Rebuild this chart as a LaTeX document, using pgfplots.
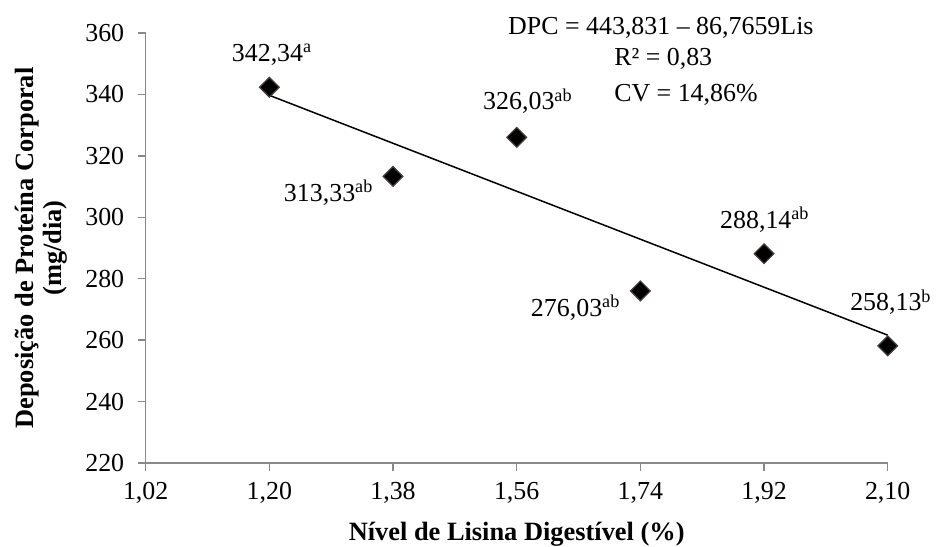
\documentclass[border=0pt]{standalone}
\usepackage{pgfplots}
\pgfplotsset{compat=1.18}
\usepackage{fontspec}
\setmainfont{Liberation Serif}
\definecolor{axgray}{HTML}{898989}
\definecolor{mkedge}{HTML}{4a4040}
\begin{document}
\begin{tikzpicture}
\path[use as bounding box] (-145.7bp,-84bp) rectangle (790.3bp,463bp);
\begin{axis}[
  scale only axis,
  width=742bp, height=430bp,
  xmin=1.02, xmax=2.10, ymin=220, ymax=360,
  xtick={1.02,1.20,1.38,1.56,1.74,1.92,2.10},
  xticklabels={{1,02},{1,20},{1,38},{1,56},{1,74},{1,92},{2,10}},
  ytick={220,240,...,360},
  axis x line=bottom, axis y line=left,
  axis line style={axgray, line width=1.3bp, -},
  tick style={axgray, line width=1.3bp},
  tick align=outside, major tick length=8bp,
  /pgf/number format/assume math mode=true,
  tick label style={font=\fontsize{26}{30}\selectfont, text=black},
  xticklabel style={yshift=-8bp},
  yticklabel style={xshift=-10bp},
  xlabel={\textbf{Nível de Lisina Digestível (\%)}},
  ylabel={\textbf{Deposição de Proteína Corporal}\\\textbf{(mg/dia)}},
  xlabel style={font=\fontsize{26.5}{30}\selectfont, at={(axis description cs:0.5,-0.17907)}, anchor=base},
  ylabel style={font=\fontsize{26.5}{28}\selectfont, align=center, at={(axis description cs:-0.1411,0.5)}, anchor=center},
  clip=false,
]
\addplot[only marks, mark=square*, mark size=7bp, mark options={rotate=45, fill=black, draw=mkedge, line width=1.2bp}]
  coordinates {(1.20,342.34) (1.38,313.33) (1.56,326.03) (1.74,276.03) (1.92,288.14) (2.10,258.13)};
\addplot[black, line width=1.5bp] coordinates {(1.20,339.71) (2.10,261.62)};
\begin{scope}[every node/.style={font=\fontsize{26}{30}\selectfont, inner sep=0pt}]
\node[anchor=base west] at (axis cs:1.1452,350.66) {342,34\textsuperscript{a}};
\node[anchor=base east] at (axis cs:1.3509,304.98) {313,33\textsuperscript{ab}};
\node[anchor=base west] at (axis cs:1.5110,334.93) {326,03\textsuperscript{ab}};
\node[anchor=base east] at (axis cs:1.7104,267.54) {276,03\textsuperscript{ab}};
\node[anchor=base west] at (axis cs:1.8559,296.51) {288,14\textsuperscript{ab}};
\node[anchor=base west] at (axis cs:2.0452,269.49) {258,13\textsuperscript{b}};
\node[anchor=base west] at (axis cs:1.5474,359.35) {DPC = 443,831 – 86,7659Lis};
\node[anchor=base west] at (axis cs:1.7017,349.58) {R² = 0,83};
\node[anchor=base west] at (axis cs:1.7017,337.54) {CV = 14,86\%};
\end{scope}
\end{axis}
\end{tikzpicture}
\end{document}
